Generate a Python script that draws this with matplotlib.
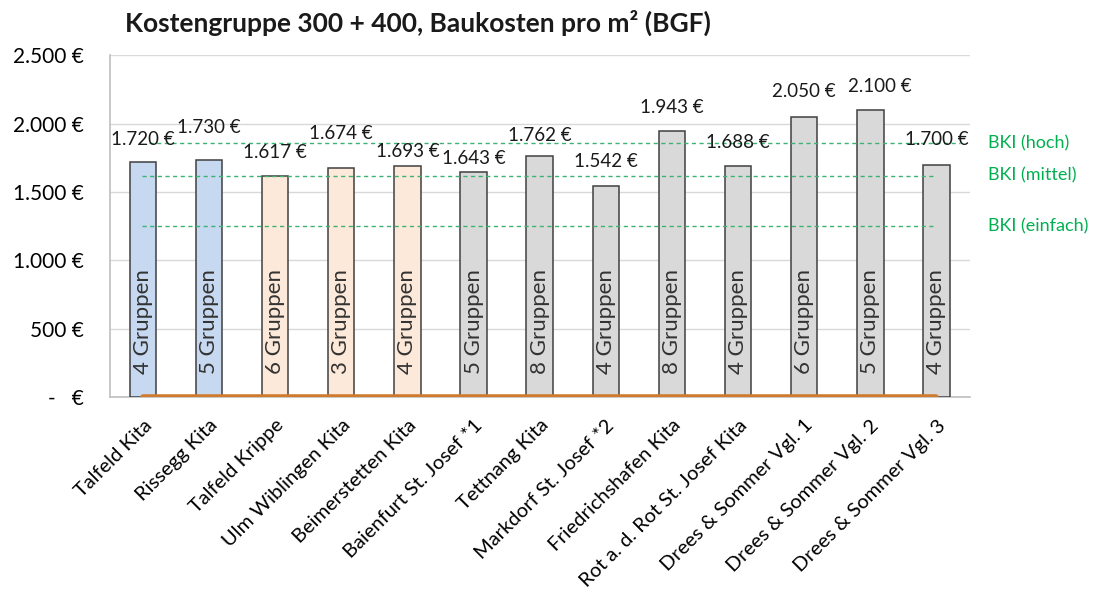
import matplotlib
matplotlib.use("Agg")
import matplotlib.pyplot as plt

plt.rcParams['font.family'] = ['Lato', 'DejaVu Sans']

# Daten
projekte = ['Talfeld Kita', 'Rissegg Kita', 'Talfeld Krippe', 'Ulm Wiblingen Kita',
            'Beimerstetten Kita', 'Baienfurt St. Josef *1', 'Tettnang Kita',
            'Markdorf St. Josef *2', 'Friedrichshafen Kita', 'Rot a. d. Rot St. Josef Kita',
            'Drees & Sommer Vgl. 1', 'Drees & Sommer Vgl. 2', 'Drees & Sommer Vgl. 3']
kosten = [1720, 1730, 1617, 1674, 1693, 1643, 1762, 1542, 1943, 1688, 2050, 2100, 1700]
gruppen = [4, 5, 6, 3, 4, 5, 8, 4, 8, 4, 6, 5, 4]
kategorie = ['blau', 'blau', 'peach', 'peach', 'peach', 'grau', 'grau', 'grau',
             'grau', 'grau', 'grau', 'grau', 'grau']
bki_namen = ['BKI (hoch)', 'BKI (mittel)', 'BKI (einfach)']
bki_werte = [1855, 1620, 1250]
y_ticks = [0, 500, 1000, 1500, 2000, 2500]

# Stil
farben = {'blau': '#C6D9F0', 'peach': '#FDE9D9', 'grau': '#D9D9D9'}
label_lift = [16, 24, 17, 25, 10, 10, 15, 18, 17, 17, 18, 17, 18]  # pt über Balken
label_shift = [0, 0, 0, 0, 0, 0, 0, 0, 0, 0, 0, 7, 0]  # pt seitlich
gruen = '#00B050'


def euro(v):
    if v == 0:
        return '-   €'
    return f"{v:,.0f} €".replace(',', '.')


fig = plt.figure(figsize=(10.98, 5.99), dpi=100)
ax = fig.add_axes([0.100, 0.337, 0.783, 0.571])

x = list(range(len(projekte)))
ax.bar(x, kosten, width=0.4, color=[farben[k] for k in kategorie],
       edgecolor='#404040', linewidth=1.1, zorder=3)

for xi, v, g, lift, dx in zip(x, kosten, gruppen, label_lift, label_shift):
    ax.annotate(euro(v), (xi, v), xytext=(dx, lift), textcoords='offset points',
                ha='center', va='center', fontsize=13.5, color='#1a1a1a', zorder=5)
    ax.annotate(f"{g} Gruppen", (xi, 0), xytext=(0, 17), textcoords='offset points',
                ha='center', va='bottom', rotation=90, fontsize=16, color='#333333',
                zorder=5)

# BKI-Linien
starts = [0.1, -0.02, -0.02]
ends = [12.35, 11.98, 11.98]
for name, wert, s, e in zip(bki_namen, bki_werte, starts, ends):
    ax.plot([s, e], [wert, wert], linestyle=(0, (3, 2.5)), color='#3CB371', lw=1.0, zorder=4)
    ax.text(12.78, wert, name, color=gruen, fontsize=13, va='center', ha='left')

# orange Linie unten
ax.plot([0, 12], [0, 0], color='#D07A2E', lw=4.0, zorder=6, solid_capstyle='round')

ax.set_xlim(-0.5, 12.5)
ax.set_ylim(0, 2500)
ax.set_yticks(y_ticks)
ax.set_yticklabels([euro(v) for v in y_ticks], fontsize=15)
ax.set_xticks(x)
ax.set_xticklabels(projekte, rotation=45, ha='right', rotation_mode='anchor', fontsize=14.5)
ax.tick_params(axis='both', length=0)
ax.tick_params(axis='y', pad=19)
ax.tick_params(axis='x', pad=14)
ax.grid(axis='y', color='#D9D9D9', lw=1, zorder=0)
for s in ['top', 'right']:
    ax.spines[s].set_visible(False)
for s in ['left', 'bottom']:
    ax.spines[s].set_color('#BFBFBF')
    ax.spines[s].set_linewidth(1.2)

fig.text(0.114, 0.962, 'Kostengruppe 300 + 400, Baukosten pro m² (BGF)', fontsize=19,
         fontweight='bold', va='center', ha='left', color='#1a1a1a')

fig.savefig('out.png', dpi=100)
